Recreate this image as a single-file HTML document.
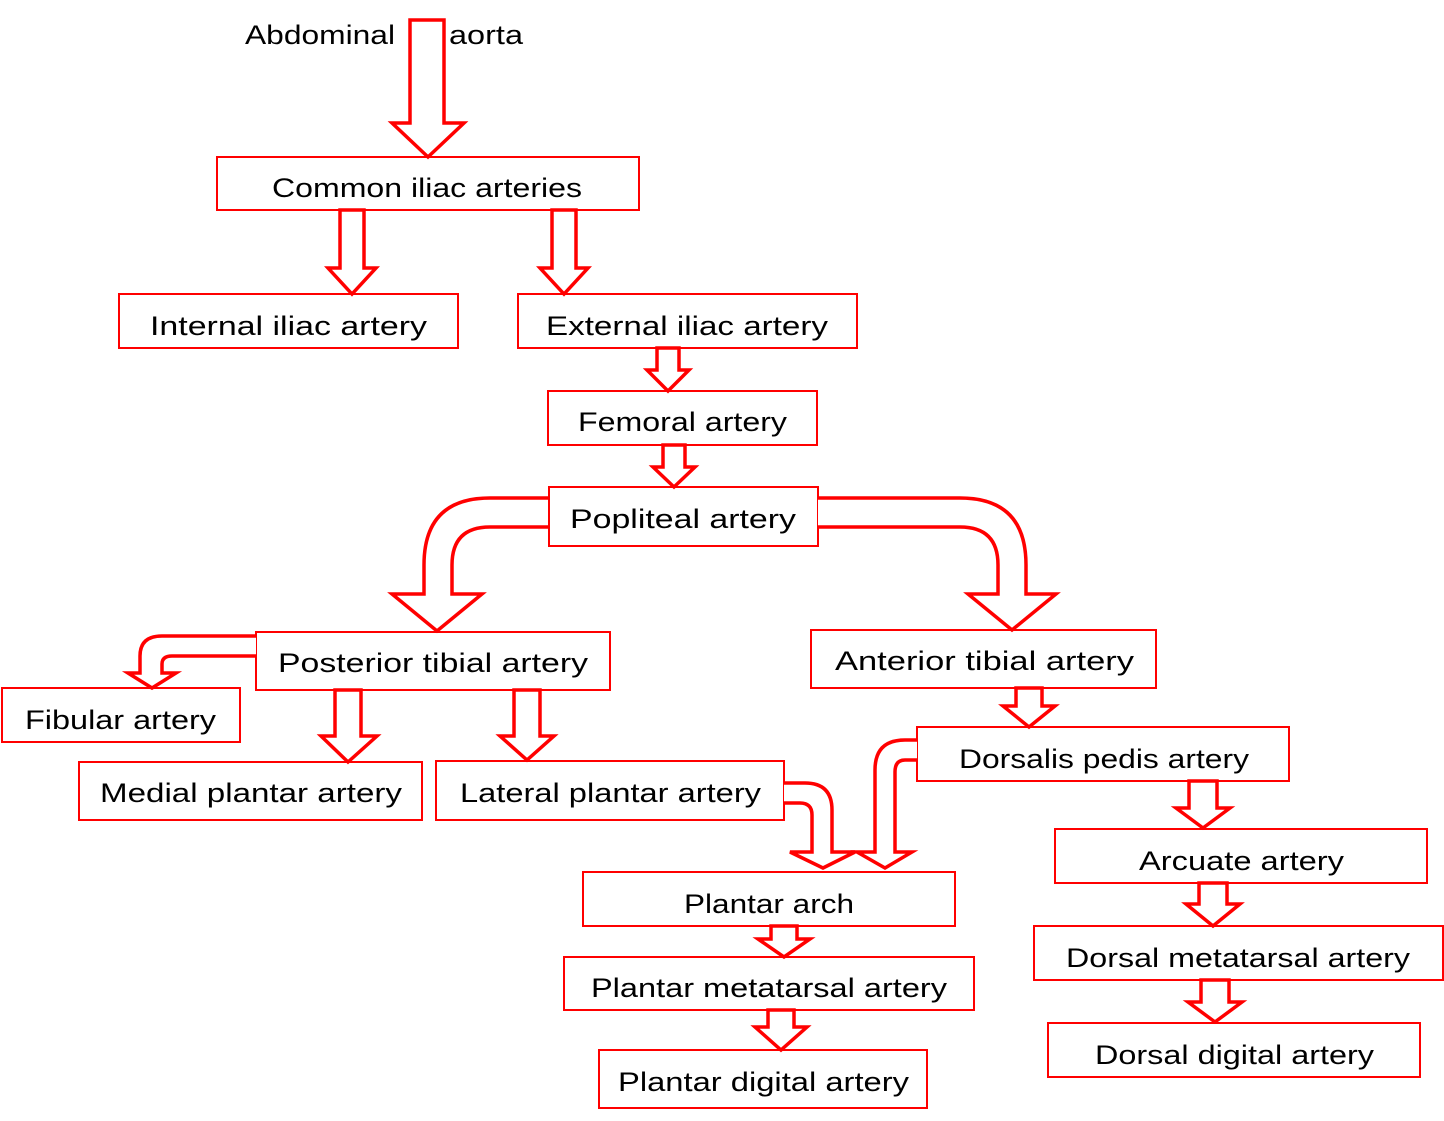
<!DOCTYPE html>
<html><head><meta charset="utf-8"><style>html,body{margin:0;padding:0;background:#fff}svg{display:block}</style></head>
<body>
<svg width="1444" height="1121" viewBox="0 0 1444 1121" xmlns="http://www.w3.org/2000/svg" font-family="'Liberation Sans', sans-serif" font-size="27" fill="#000">
<g fill="#fff" stroke="#f00" stroke-width="2">
<rect x="217" y="157" width="422" height="53"/>
<rect x="119" y="294" width="339" height="54"/>
<rect x="518" y="294" width="339" height="54"/>
<rect x="548" y="391" width="269" height="54"/>
<rect x="549" y="487" width="269" height="59"/>
<rect x="256" y="632" width="354" height="58"/>
<rect x="811" y="630" width="345" height="58"/>
<rect x="2" y="688" width="238" height="54"/>
<rect x="79" y="762" width="343" height="58"/>
<rect x="436" y="761" width="348" height="59"/>
<rect x="917" y="727" width="372" height="54"/>
<rect x="1055" y="829" width="372" height="54"/>
<rect x="1034" y="926" width="409" height="54"/>
<rect x="1048" y="1023" width="372" height="54"/>
<rect x="583" y="872" width="372" height="54"/>
<rect x="564" y="957" width="410" height="53"/>
<rect x="599" y="1050" width="328" height="58"/>
</g>
<g fill="#fff" stroke="#f00" stroke-width="3.5" stroke-linejoin="miter">
<path d="M410 20 H444 V123 H464 L428 157 L392 123 H410 Z"/>
<path d="M340 210 H364 V268 H376 L352 294 L328 268 H340 Z"/>
<path d="M552 210 H576 V268 H588 L564 294 L540 268 H552 Z"/>
<path d="M657 348 H679 V370 H689 L668 391 L647 370 H657 Z"/>
<path d="M663 445 H685 V467 H695 L674 487 L653 467 H663 Z"/>
<path d="M548 498 H490 Q424 498 424 565 V594 H392 L437 631 L482 594 H452 V565 Q452 527 490 527 H548"/>
<path d="M818 498 H960 Q1026 498 1026 565 V594 H1056 L1012 630 L968 594 H998 V565 Q998 527 960 527 H818"/>
<path d="M256 636 H162 Q140 636 140 656 V673 H128 L152 688 L176 673 H162 V664 Q162 656 172 656 H256"/>
<path d="M335 690 H361 V736 H377 L348 762 L321 736 H335 Z"/>
<path d="M514 690 H540 V736 H554 L527 760 L500 736 H514 Z"/>
<path d="M1016 688 H1042 V706 H1055 L1029 727 L1003 706 H1016 Z"/>
<path d="M784 783 H805 Q832 783 832 810 V852 H855 L823 868 L790 852 H812 V815 Q812 803 800 803 H784"/>
<path d="M917 740 H905 Q875 740 875 770 V852 H857 L885 868 L912 852 H895 V772 Q895 760 905 760 H917"/>
<path d="M1189 781 H1217 V808 H1230 L1203 828 L1176 808 H1189 Z"/>
<path d="M1199 883 H1227 V904 H1240 L1213 926 L1186 904 H1199 Z"/>
<path d="M1201 980 H1229 V1002 H1242 L1215 1022 L1188 1002 H1201 Z"/>
<path d="M771 926 H797 V939 H810 L784 957 L758 939 H771 Z"/>
<path d="M768 1010 H794 V1027 H807 L781 1050 L755 1027 H768 Z"/>
</g>
<g>
<text x="245" y="44" textLength="150" lengthAdjust="spacingAndGlyphs">Abdominal</text>
<text x="449" y="44" textLength="74" lengthAdjust="spacingAndGlyphs">aorta</text>
<text x="272" y="197" textLength="310" lengthAdjust="spacingAndGlyphs">Common iliac arteries</text>
<text x="150" y="335" textLength="277" lengthAdjust="spacingAndGlyphs">Internal  iliac artery</text>
<text x="546" y="335" textLength="282" lengthAdjust="spacingAndGlyphs">External  iliac artery</text>
<text x="578" y="431" textLength="209" lengthAdjust="spacingAndGlyphs">Femoral artery</text>
<text x="570" y="528" textLength="226" lengthAdjust="spacingAndGlyphs">Popliteal  artery</text>
<text x="278" y="672" textLength="310" lengthAdjust="spacingAndGlyphs">Posterior tibial  artery</text>
<text x="835" y="670" textLength="299" lengthAdjust="spacingAndGlyphs">Anterior tibial  artery</text>
<text x="25" y="729" textLength="191" lengthAdjust="spacingAndGlyphs">Fibular artery</text>
<text x="100" y="802" textLength="302" lengthAdjust="spacingAndGlyphs">Medial plantar artery</text>
<text x="460" y="802" textLength="301" lengthAdjust="spacingAndGlyphs">Lateral plantar artery</text>
<text x="959" y="768" textLength="290" lengthAdjust="spacingAndGlyphs">Dorsalis pedis artery</text>
<text x="1139" y="870" textLength="205" lengthAdjust="spacingAndGlyphs">Arcuate artery</text>
<text x="1066" y="967" textLength="344" lengthAdjust="spacingAndGlyphs">Dorsal metatarsal artery</text>
<text x="1095" y="1064" textLength="279" lengthAdjust="spacingAndGlyphs">Dorsal digital artery</text>
<text x="684" y="913" textLength="170" lengthAdjust="spacingAndGlyphs">Plantar arch</text>
<text x="591" y="997" textLength="356" lengthAdjust="spacingAndGlyphs">Plantar metatarsal artery</text>
<text x="618" y="1091" textLength="291" lengthAdjust="spacingAndGlyphs">Plantar digital artery</text>
</g>
</svg>
</body></html>
